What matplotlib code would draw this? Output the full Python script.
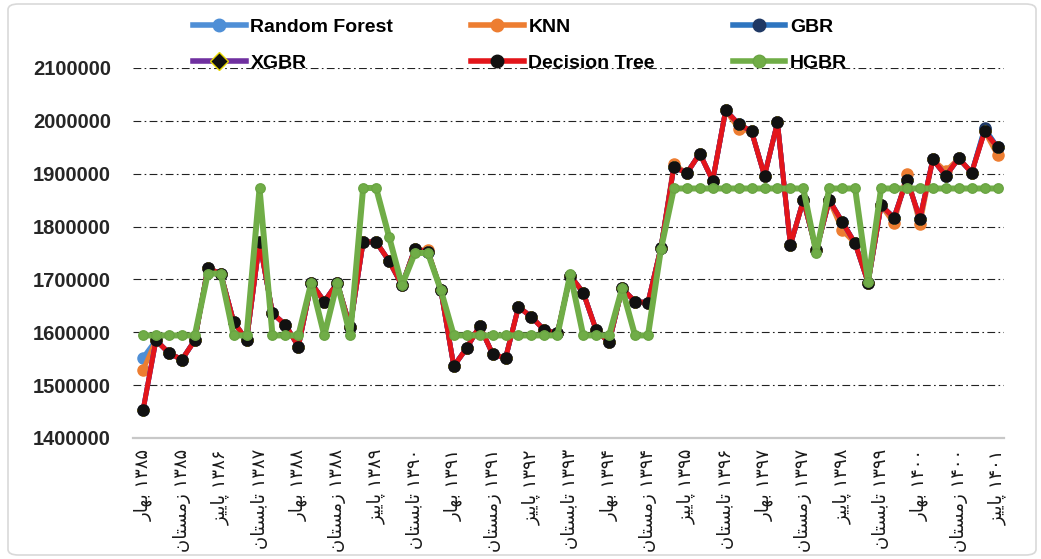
import matplotlib
matplotlib.use('Agg')
import matplotlib.pyplot as plt
from matplotlib.lines import Line2D
from matplotlib.patches import FancyBboxPatch

# quarterly values, spring 1385 .. autumn 1401 (67 quarters)
decision_tree = [1452000, 1585000, 1561000, 1548000, 1585000, 1721000, 1711000, 1620000, 1585000, 1771000,
                 1636000, 1614000, 1573000, 1693000, 1658000, 1693000, 1610000, 1771000, 1771000, 1735000,
                 1689000, 1758000, 1752000, 1680000, 1536000, 1570000, 1612000, 1559000, 1551000, 1648000,
                 1629000, 1604000, 1598000, 1707000, 1675000, 1604000, 1581000, 1683000, 1658000, 1656000,
                 1760000, 1913000, 1901000, 1938000, 1887000, 2020000, 1994000, 1980000, 1896000, 1997000,
                 1765000, 1850000, 1755000, 1850000, 1809000, 1768000, 1694000, 1840000, 1817000, 1889000,
                 1815000, 1927000, 1896000, 1929000, 1902000, 1980000, 1950000]
random_forest = [1552000, 1585000, 1561000, 1548000, 1585000, 1721000, 1711000, 1620000, 1585000, 1771000,
                 1636000, 1614000, 1573000, 1693000, 1658000, 1693000, 1610000, 1771000, 1771000, 1735000,
                 1689000, 1758000, 1752000, 1680000, 1536000, 1570000, 1612000, 1559000, 1551000, 1648000,
                 1629000, 1604000, 1598000, 1707000, 1675000, 1604000, 1581000, 1683000, 1658000, 1656000,
                 1760000, 1913000, 1901000, 1938000, 1887000, 2020000, 1994000, 1980000, 1896000, 1997000,
                 1765000, 1850000, 1755000, 1850000, 1809000, 1768000, 1694000, 1840000, 1817000, 1889000,
                 1815000, 1927000, 1896000, 1929000, 1902000, 1984000, 1950000]
knn = [1528000, 1585000, 1561000, 1548000, 1585000, 1721000, 1711000, 1620000, 1585000, 1771000,
       1636000, 1614000, 1573000, 1693000, 1658000, 1693000, 1610000, 1771000, 1771000, 1735000,
       1689000, 1757000, 1755000, 1680000, 1536000, 1570000, 1612000, 1559000, 1551000, 1648000,
       1629000, 1604000, 1598000, 1707000, 1675000, 1604000, 1581000, 1683000, 1658000, 1656000,
       1760000, 1918000, 1901000, 1938000, 1887000, 2020000, 1985000, 1980000, 1896000, 1997000,
       1765000, 1850000, 1755000, 1850000, 1793000, 1768000, 1694000, 1840000, 1806000, 1900000,
       1804000, 1927000, 1905000, 1929000, 1902000, 1980000, 1935000]
gbr = [1452000, 1585000, 1561000, 1548000, 1585000, 1721000, 1711000, 1620000, 1585000, 1771000,
       1636000, 1614000, 1573000, 1693000, 1658000, 1693000, 1610000, 1771000, 1771000, 1735000,
       1689000, 1758000, 1752000, 1680000, 1536000, 1570000, 1612000, 1559000, 1551000, 1648000,
       1629000, 1604000, 1598000, 1707000, 1675000, 1604000, 1581000, 1683000, 1658000, 1656000,
       1760000, 1913000, 1901000, 1938000, 1887000, 2020000, 1994000, 1980000, 1896000, 1997000,
       1765000, 1850000, 1755000, 1850000, 1809000, 1768000, 1694000, 1840000, 1817000, 1889000,
       1815000, 1927000, 1896000, 1929000, 1902000, 1986000, 1950000]
xgbr = [1452000, 1585000, 1561000, 1548000, 1585000, 1721000, 1711000, 1620000, 1585000, 1771000,
        1636000, 1614000, 1573000, 1693000, 1658000, 1693000, 1610000, 1771000, 1771000, 1735000,
        1689000, 1758000, 1752000, 1680000, 1536000, 1570000, 1612000, 1559000, 1551000, 1648000,
        1629000, 1604000, 1598000, 1707000, 1675000, 1604000, 1581000, 1683000, 1658000, 1656000,
        1760000, 1913000, 1901000, 1938000, 1887000, 2020000, 1994000, 1980000, 1896000, 1997000,
        1765000, 1850000, 1755000, 1850000, 1809000, 1768000, 1694000, 1840000, 1817000, 1889000,
        1815000, 1927000, 1896000, 1929000, 1902000, 1980000, 1950000]
hgbr = [1594000, 1594000, 1594000, 1594000, 1594000, 1711000, 1711000, 1594000, 1594000, 1872000,
        1594000, 1594000, 1594000, 1694000, 1594000, 1694000, 1594000, 1873000, 1873000, 1781000,
        1689000, 1750000, 1750000, 1680000, 1594000, 1594000, 1594000, 1594000, 1594000, 1594000,
        1594000, 1594000, 1594000, 1710000, 1594000, 1594000, 1594000, 1683000, 1594000, 1594000,
        1757000, 1872000, 1872000, 1872000, 1872000, 1872000, 1872000, 1872000, 1872000, 1872000,
        1872000, 1872000, 1750000, 1872000, 1872000, 1872000, 1696000, 1872000, 1872000, 1872000,
        1872000, 1872000, 1872000, 1872000, 1872000, 1872000, 1872000]

label_years = [1385, 1385, 1386, 1387, 1388, 1388, 1389, 1390, 1391, 1391, 1392, 1393,
               1394, 1394, 1395, 1396, 1397, 1397, 1398, 1399, 1400, 1400, 1401]
label_seasons = ['بهار', 'زمستان', 'پاییز', 'تابستان'] * 5 + ['بهار', 'زمستان', 'پاییز']

# matplotlib does no arabic shaping, so use presentation forms (logical order)
shaped = {
    'بهار': '\ufe91\ufeec\ufe8e\ufead',
    'زمستان': '\ufeaf\ufee3\ufeb4\ufe98\ufe8e\ufee5',
    'پاییز': '\ufb58\ufe8e\ufbfe\ufbff\ufeb0',
    'تابستان': '\ufe97\ufe8e\ufe91\ufeb4\ufe98\ufe8e\ufee5',
}
fa_digits = str.maketrans('0123456789', '۰۱۲۳۴۵۶۷۸۹')

def fa_label(season, year):
    return shaped[season][::-1] + ' ' + str(year).translate(fa_digits)

tick_labels = [fa_label(s, y) for s, y in zip(label_seasons, label_years)]
x = list(range(len(decision_tree)))

fig = plt.figure(figsize=(10.41, 5.59), dpi=100)
ax = fig.add_axes([0.1278, 0.2165, 0.8367, 0.6619])

series = [
    ('Random Forest', random_forest, dict(color='#4F8FD6', mfc='#4F8FD6', mec='#4F8FD6', marker='o')),
    ('KNN', knn, dict(color='#ED7D31', mfc='#ED7D31', mec='#ED7D31', marker='o')),
    ('GBR', gbr, dict(color='#2E75C0', mfc='#1F3864', mec='#1F3864', marker='o')),
    ('XGBR', xgbr, dict(color='#7030A0', mfc='#111111', mec='#E8D800', marker='D')),
    ('Decision Tree', decision_tree, dict(color='#E3151A', mfc='#111111', mec='#111111', marker='o')),
    ('HGBR', hgbr, dict(color='#70AD47', mfc='#70AD47', mec='#6AA443', marker='o')),
]
handles = {}
for i, (name, vals, st) in enumerate(series):
    if name == 'HGBR':
        lw, ms = 4.3, 6.8
    elif st['marker'] == 'D':
        lw, ms = 3.5, 6.5
    else:
        lw, ms = 3.5, 8.0
    ax.plot(x, vals, lw=lw, ms=ms, zorder=3 + i, solid_joinstyle='round', **st)
    handles[name] = Line2D([], [], lw=4, ms=9, **st)

ax.set_xlim(-0.77, 66.5)
ax.set_ylim(1400000, 2100000)
ax.set_yticks(range(1400000, 2100001, 100000))
ax.set_yticklabels([str(v) for v in range(1400000, 2100001, 100000)],
                   fontsize=14.5, fontweight='bold', family='Liberation Sans', color='#262626')
ax.set_xticks(x[::3])
ax.set_xticklabels(tick_labels, rotation=90, fontsize=13, family='DejaVu Sans', color='#1a1a1a')
ax.tick_params(axis='both', length=0)
ax.tick_params(axis='y', pad=16)
ax.tick_params(axis='x', pad=8)

ax.set_axisbelow(True)
ax.yaxis.grid(True, color='#222222', lw=0.8, linestyle=(0, (7, 3, 1.5, 3)))
for s in ['top', 'right', 'left']:
    ax.spines[s].set_visible(False)
ax.spines['bottom'].set_color('#C8C8C8')
ax.spines['bottom'].set_linewidth(1.6)

order = ['Random Forest', 'XGBR', 'KNN', 'Decision Tree', 'GBR', 'HGBR']
fig.legend([handles[k] for k in order], order, ncol=3, loc='center', bbox_to_anchor=(0.4996, 0.9195),
           frameon=False, prop={'family': 'Liberation Sans', 'weight': 'bold', 'size': 14},
           handlelength=2.7, handletextpad=0.25, columnspacing=4.0, labelspacing=0.95)

# light chart border
fig.patches.append(FancyBboxPatch((8 / 1041, 4 / 559), 1028 / 1041, 551 / 559,
                                  boxstyle='round,pad=0,rounding_size=0.01', transform=fig.transFigure,
                                  fill=False, edgecolor='#D9D9D9', lw=1.2))

fig.savefig('out.png', dpi=100)
